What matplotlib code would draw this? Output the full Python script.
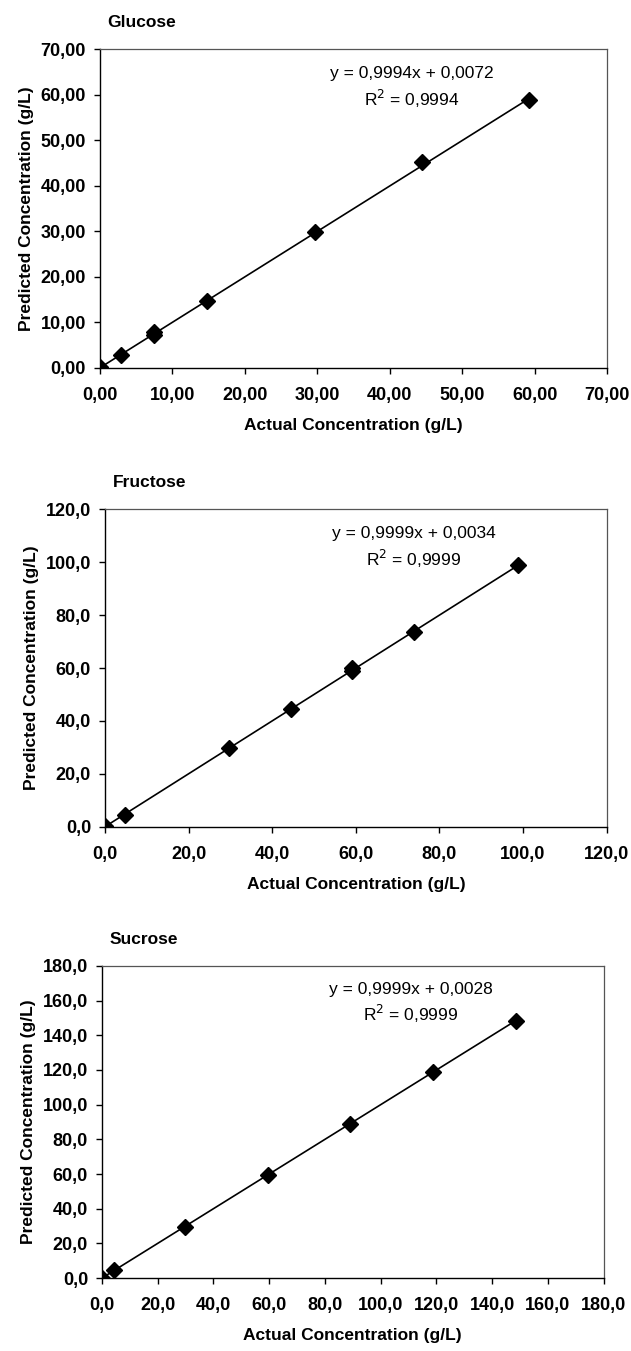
import numpy as np
import matplotlib
matplotlib.use("Agg")
import matplotlib.pyplot as plt
from matplotlib.ticker import FuncFormatter

plt.rcParams['font.family'] = ['Liberation Sans', 'DejaVu Sans']

# Glucose calibration
glu_actual = [0.0, 2.96, 7.4, 7.4, 14.8, 29.6, 44.4, 59.2]
glu_pred = [0.2, 2.9, 7.1, 7.8, 14.6, 29.9, 45.2, 58.9]
glu_fit = (0.9994, 0.0072, "0,9994")
glu_ticks = [0, 10, 20, 30, 40, 50, 60, 70]

# Fructose calibration
fru_actual = [0.0, 4.9, 29.6, 44.4, 59.2, 59.2, 74.0, 98.7]
fru_pred = [0.1, 4.4, 29.8, 44.6, 59.0, 60.0, 73.8, 98.9]
fru_fit = (0.9999, 0.0034, "0,9999")
fru_ticks = [0, 20, 40, 60, 80, 100, 120]

# Sucrose calibration
suc_actual = [0.0, 4.45, 29.7, 59.4, 89.1, 118.8, 148.5]
suc_pred = [0.1, 4.6, 29.4, 59.4, 88.9, 118.9, 148.4]
suc_fit = (0.9999, 0.0028, "0,9999")
suc_ticks = [0, 20, 40, 60, 80, 100, 120, 140, 160, 180]

panels = [
    ("Glucose", glu_actual, glu_pred, glu_fit, glu_ticks, 2, [0.1585, 0.7278, 0.804, 0.2357]),
    ("Fructose", fru_actual, fru_pred, fru_fit, fru_ticks, 1, [0.1664, 0.3881, 0.795, 0.2349]),
    ("Sucrose", suc_actual, suc_pred, suc_fit, suc_ticks, 1, [0.1616, 0.0540, 0.795, 0.2310]),
]

fig = plt.figure(figsize=(6.31, 13.51), dpi=100)

for name, xs, ys, fit, ticks, dec, pos in panels:
    ax = fig.add_axes(pos)
    slope, icpt, r2 = fit
    # trend line from the fitted equation, over the data range
    lx = np.array([min(xs), max(xs)])
    ax.plot(lx, slope * lx + icpt, color='black', lw=1.2, zorder=2)
    ax.plot(xs, ys, linestyle='none', marker='D', markersize=8,
            color='black', zorder=3)

    ax.set_xlim(ticks[0], ticks[-1])
    ax.set_ylim(ticks[0], ticks[-1])
    ax.set_xticks(ticks)
    ax.set_yticks(ticks)
    fmt = FuncFormatter(lambda v, p, d=dec: f"{v:.{d}f}".replace('.', ','))
    ax.xaxis.set_major_formatter(fmt)
    ax.yaxis.set_major_formatter(fmt)
    ax.tick_params(direction='out', length=4, width=1, labelsize=13, pad=6)
    ax.tick_params(axis='x', pad=10)
    for lab in ax.get_xticklabels() + ax.get_yticklabels():
        lab.set_fontweight('bold')

    for s in ['left', 'bottom']:
        ax.spines[s].set_color('black')
        ax.spines[s].set_linewidth(1.0)
    for s in ['top', 'right']:
        ax.spines[s].set_color('#555555')
        ax.spines[s].set_linewidth(0.9)

    ax.set_xlabel("Actual Concentration (g/L)", fontsize=12.5, fontweight='bold', labelpad=10)
    ax.set_ylabel("Predicted Concentration (g/L)", fontsize=12.5, fontweight='bold', labelpad=5)
    ax.text(0.015, 1.085, name, transform=ax.transAxes, fontsize=12.5,
            fontweight='bold', ha='left', va='center')

    eq = f"y = {str(slope).replace('.', ',')}x + {f'{icpt:.4f}'.replace('.', ',')}"
    ax.text(0.615, 0.925, eq, transform=ax.transAxes, fontsize=12.5,
            ha='center', va='center')
    ax.text(0.615, 0.845, f"R$^2$ = {r2}", transform=ax.transAxes, fontsize=12.5,
            ha='center', va='center')

fig.savefig("out.png", dpi=100)
